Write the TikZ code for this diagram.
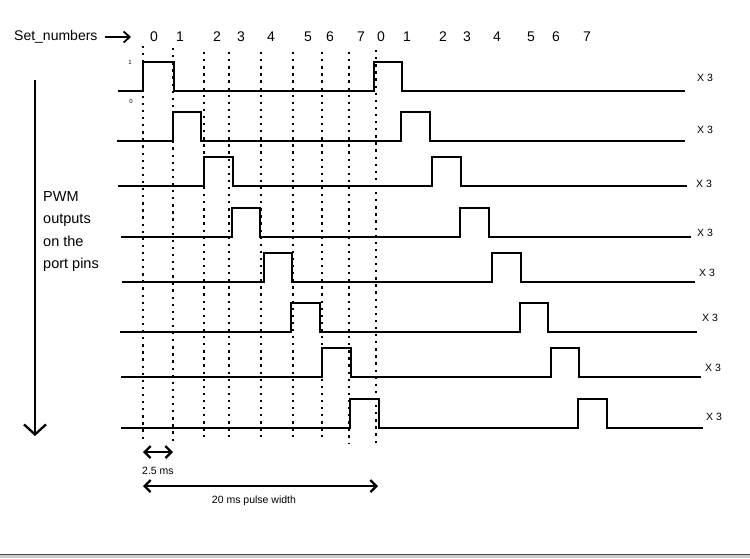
\documentclass[tikz,border=0pt]{standalone}
\usepackage{fontspec}
\setmainfont{Liberation Sans}
\usetikzlibrary{positioning, arrows.meta, calc}

\begin{document}
\begin{tikzpicture}[
    x=1pt, y=-1pt,
    wave/.style={draw=black, line width=2.5pt},
    tick/.style={draw=black, line width=2.3pt, dash pattern=on 2.3pt off 4.8pt},
    label/.style={inner sep=0pt, font=\fontsize{14}{16}\selectfont},
    small/.style={inner sep=0pt, font=\fontsize{10.5}{12}\selectfont},
    tiny/.style={inner sep=0pt, font=\fontsize{6}{7}\selectfont},
    timearrow/.style={{Straight Barb[length=6pt, width=12pt]}-{Straight Barb[length=6pt, width=12pt]}, line width=2.3pt}
]
\useasboundingbox (0,0) rectangle (750,558);

% dotted time marks
\foreach \xx/\ytop/\ybot in {143/46/442, 173/48/442, 204/52/437, 229/52/437, 261/52/437, 293/52/437, 322/52/437, 349/52/444, 376/50/446}
    \draw[tick] (\xx,\ytop) -- (\xx,\ybot);

% set numbers
\node[label, anchor=west] (setnum) at (14,37) {Set\_numbers};
\coordinate (setarrow) at (131,37);
\draw[-{Straight Barb[length=6pt, width=11pt]}, line width=1.8pt] ([xshift=7pt]setnum.east) -- (setarrow);
\foreach \n/\xx in {0/154, 1/180, 2/217, 3/241, 4/271, 5/308, 6/330, 7/361}
    \node[label] (n\n) at (\xx,37) {\n};
\foreach \n/\xx in {0/381, 1/407, 2/443, 3/467, 4/497, 5/531, 6/556, 7/587}
    \node[label] (m\n) at (\xx,37) {\n};

% logic levels
\node[tiny] (one) at (130,62) {1};
\node[tiny] (zero) at (131,101) {0};

% pwm outputs, one per row
\foreach \row/\yy/\s/\a/\b/\c/\d/\e/\lx/\ly in {
    1/91/118/143/174/374/402/685/705/78,
    2/141/117/173/201/401/430/685/705/130,
    3/186/118/204/233/432/461/687/704/184,
    4/237/121/232/260/460/489/691/705/233,
    5/282/122/264/292/492/521/695/707/273,
    6/332/120/291/320/520/548/697/710/318,
    7/377/121/322/351/551/579/701/713/368,
    8/428/121/350/379/578/607/703/714/417}
{
    \draw[wave] (\s,\yy) -- (\a,\yy) -- (\a,\yy-29) -- (\b,\yy-29) -- (\b,\yy)
        -- (\c,\yy) -- (\c,\yy-29) -- (\d,\yy-29) -- (\d,\yy) -- (\e,\yy);
    \node[small] (rep\row) at (\lx,\ly) {X 3};
}

% port pins
\coordinate (pintop) at (35,80);
\coordinate (pinbot) at (35,436);
\draw[-{Straight Barb[length=10pt, width=22pt]}, line width=2.3pt] (pintop) -- (pinbot);
\node[label, anchor=north west, align=left, font=\fontsize{14.5}{22.5}\selectfont] (pins) at (43,191) {PWM\\outputs\\on the\\port pins};

% timing
\coordinate (t0) at (143,452);
\coordinate (t1) at (173,452);
\draw[timearrow] (t0) -- (t1);
\node[small, anchor=west] (slot) at (142,471) {2.5 ms};
\coordinate (p0) at (143,486);
\coordinate (p1) at (378,486);
\draw[timearrow] (p0) -- (p1);
\node[small] (period) at (254,501) {20 ms pulse width};

% frame edge
\fill[gray!40] (0,555) rectangle (750,558);
\draw[line width=1.6pt, gray!60!black] (0,554.5) -- (750,554.5);
\end{tikzpicture}
\end{document}
